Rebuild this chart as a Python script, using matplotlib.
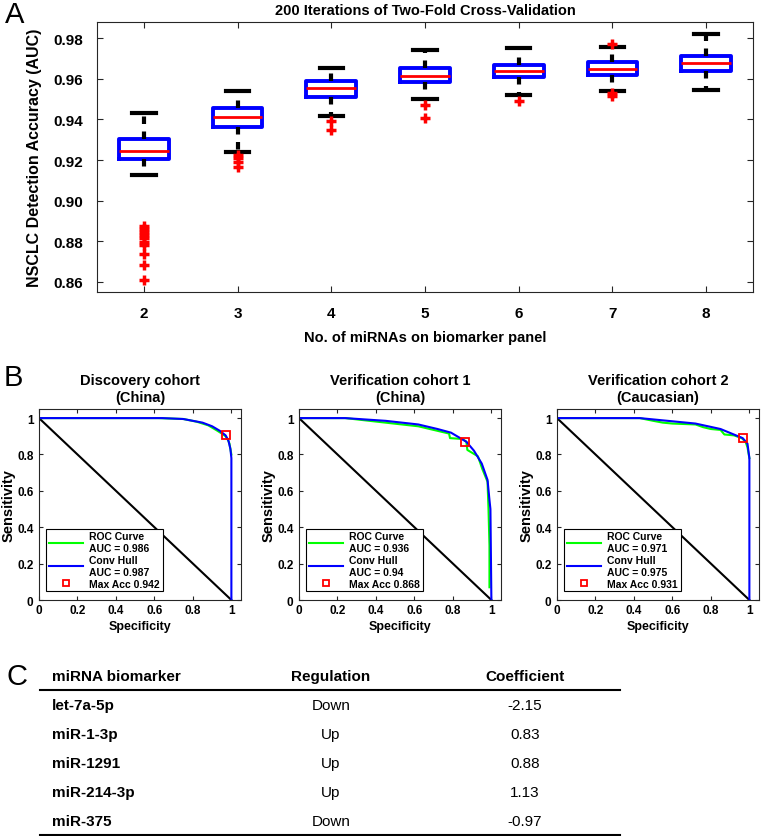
import numpy as np
import matplotlib
matplotlib.use('Agg')
import matplotlib.pyplot as plt
from matplotlib.lines import Line2D

plt.rcParams['font.family'] = ['Liberation Sans', 'DejaVu Sans']

# ---- panel A data: box stats for each panel size ----
n_mirnas = [2, 3, 4, 5, 6, 7, 8]
med = [0.9246, 0.9412, 0.9555, 0.9616, 0.9640, 0.9649, 0.9678]
q1 = [0.9205, 0.9364, 0.9511, 0.9583, 0.9609, 0.9619, 0.9637]
q3 = [0.9303, 0.9456, 0.9590, 0.9655, 0.9670, 0.9682, 0.9711]
whislo = [0.9126, 0.9241, 0.9417, 0.9502, 0.9522, 0.9539, 0.9545]
whishi = [0.9430, 0.9542, 0.9654, 0.9742, 0.9751, 0.9757, 0.9821]
fliers = [
    [0.8876, 0.8860, 0.8844, 0.8830, 0.8815, 0.8795, 0.8780, 0.8737, 0.8684, 0.8608],
    [0.9226, 0.9208, 0.9189, 0.9164],
    [0.9392, 0.9348],
    [0.9471, 0.9409],
    [0.9493],
    [0.9772, 0.9529, 0.9517],
    [],
]

# ---- panel B data: ROC curves ----
titles = ['Discovery cohort\n(China)', 'Verification cohort 1\n(China)',
          'Verification cohort 2\n(Caucasian)']
roc_auc = [0.986, 0.936, 0.971]
hull_auc = [0.987, 0.94, 0.975]
max_acc = [0.942, 0.868, 0.931]
max_pt = [(0.97, 0.905), (0.865, 0.87), (0.965, 0.89)]

roc_spec = [
    [0, 0.62, 0.75, 0.82, 0.88, 0.92, 0.95, 0.97, 0.98, 0.99, 0.995, 1.0],
    [0, 0.24, 0.45, 0.62, 0.70, 0.78, 0.785, 0.85, 0.87, 0.875, 0.93, 0.953, 0.98, 0.985, 0.99, 0.99],
    [0, 0.43, 0.5, 0.55, 0.6, 0.72, 0.76, 0.8, 0.85, 0.87, 0.92, 0.96, 0.98, 0.99, 1.0],
]
roc_sens = [
    [1, 1, 0.995, 0.98, 0.96, 0.935, 0.915, 0.9, 0.885, 0.86, 0.83, 0.8],
    [1, 1, 0.975, 0.955, 0.935, 0.915, 0.89, 0.885, 0.87, 0.825, 0.79, 0.72, 0.65, 0.5, 0.3, 0.07],
    [1, 1, 0.985, 0.975, 0.97, 0.965, 0.95, 0.94, 0.935, 0.91, 0.905, 0.89, 0.87, 0.84, 0.78],
]
hull_spec = [
    [0, 0.64, 0.75, 0.85, 0.90, 0.94, 0.97, 0.985, 0.995, 1.0, 1.0],
    [0, 0.24, 0.45, 0.62, 0.72, 0.79, 0.87, 0.91, 0.95, 0.98, 0.99, 0.995, 1.0],
    [0, 0.43, 0.72, 0.85, 0.965, 0.99, 1.0, 1.0],
]
hull_sens = [
    [1, 1, 0.995, 0.975, 0.955, 0.93, 0.905, 0.875, 0.83, 0.78, 0],
    [1, 1, 0.985, 0.965, 0.94, 0.92, 0.87, 0.82, 0.75, 0.66, 0.55, 0.5, 0],
    [1, 1, 0.97, 0.94, 0.89, 0.86, 0.78, 0],
]

# ---- panel C data ----
markers = ['let-7a-5p', 'miR-1-3p', 'miR-1291', 'miR-214-3p', 'miR-375']
regulation = ['Down', 'Up', 'Up', 'Up', 'Down']
coefficient = [-2.15, 0.83, 0.88, 1.13, -0.97]

W, H = 762, 837
fig = plt.figure(figsize=(W / 100, H / 100), dpi=100)


def box(l, t, r, b):
    return [l / W, 1 - b / H, (r - l) / W, (b - t) / H]


def style_axes(ax):
    for s in ax.spines.values():
        s.set_color('#262626')
        s.set_linewidth(0.8)
    ax.tick_params(direction='in', top=True, right=True, colors='#262626',
                   labelcolor='black', length=4, width=0.8)
    for lab in ax.get_xticklabels() + ax.get_yticklabels():
        lab.set_fontweight('bold')


# ---------------- panel A ----------------
axA = fig.add_axes(box(97, 23, 753, 293))
stats = []
for i in range(len(n_mirnas)):
    stats.append(dict(med=med[i], q1=q1[i], q3=q3[i], whislo=whislo[i],
                      whishi=whishi[i], fliers=fliers[i]))
axA.bxp(stats, positions=n_mirnas, widths=0.53, capwidths=0.25,
        boxprops=dict(color='blue', linewidth=2.8),
        medianprops=dict(color='red', linewidth=2),
        whiskerprops=dict(color='black', linewidth=3, linestyle=(0, (1.8, 1.8))),
        capprops=dict(color='black', linewidth=3),
        flierprops=dict(marker='+', markersize=7, markeredgewidth=2.5,
                        markeredgecolor='red', linestyle='none'))
axA.set_xlim(1.5, 8.5)
axA.set_ylim(0.855, 0.988)
axA.set_yticks(np.arange(0.86, 0.981, 0.02))
axA.set_yticklabels(['%.2f' % v for v in np.arange(0.86, 0.981, 0.02)])
axA.set_xticks(n_mirnas)
axA.set_xticklabels([str(n) for n in n_mirnas])
style_axes(axA)
axA.tick_params(labelsize=11)
axA.tick_params(axis='y', pad=10)
axA.tick_params(axis='x', pad=10)
axA.set_title('200 Iterations of Two-Fold Cross-Validation', fontsize=10.5,
              fontweight='bold', pad=6)
axA.set_xlabel('No. of miRNAs on biomarker panel', fontsize=10.5,
               fontweight='bold', labelpad=7)
axA.set_ylabel('NSCLC Detection Accuracy (AUC)', fontsize=11.5,
               fontweight='bold', labelpad=8)

# ---------------- panel B ----------------
lefts = [39, 299, 557]
for k in range(3):
    ax = fig.add_axes(box(lefts[k], 410, lefts[k] + 202, 601))
    ax.plot([0, 1], [1, 0], color='black', linewidth=1.5)
    ax.plot(roc_spec[k], roc_sens[k], color=(0, 1, 0), linewidth=1.5)
    ax.plot(hull_spec[k], hull_sens[k], color=(0, 0, 1), linewidth=1.5)
    ax.plot([max_pt[k][0]], [max_pt[k][1]], 's', markerfacecolor='none',
            markeredgecolor='red', markersize=6, markeredgewidth=1.3)
    ax.set_xlim(0, 1.05)
    ax.set_ylim(0, 1.05)
    ticks = [0, 0.2, 0.4, 0.6, 0.8, 1]
    ax.set_xticks(ticks)
    ax.set_yticks(ticks)
    ax.set_xticklabels(['0', '0.2', '0.4', '0.6', '0.8', '1'])
    ax.set_yticklabels(['0', '0.2', '0.4', '0.6', '0.8', '1'])
    style_axes(ax)
    ax.tick_params(labelsize=8.5, length=3)
    ax.tick_params(axis='y', pad=4)
    ax.tick_params(axis='x', pad=3)
    ax.set_title(titles[k], fontsize=10.5, fontweight='bold', pad=6)
    ax.set_xlabel('Specificity', fontsize=9, fontweight='bold', labelpad=3)
    ax.set_ylabel('Sensitivity', fontsize=10.5, fontweight='bold', labelpad=1)
    handles = [
        Line2D([], [], color=(0, 1, 0), linewidth=1.5),
        Line2D([], [], color=(0, 0, 1), linewidth=1.5),
        Line2D([], [], linestyle='none', marker='s', markerfacecolor='none',
               markeredgecolor='red', markersize=5, markeredgewidth=1.3),
    ]
    labels = ['ROC Curve\nAUC = %g' % roc_auc[k],
              'Conv Hull\nAUC = %g' % hull_auc[k],
              'Max Acc %g' % max_acc[k]]
    leg = ax.legend(handles, labels, loc='lower left',
                    bbox_to_anchor=(0.035, 0.045), borderaxespad=0,
                    prop=dict(weight='bold', size=7.5), fancybox=False,
                    framealpha=1, edgecolor='black', handlelength=3.3,
                    handletextpad=0.6, labelspacing=0.2, borderpad=0.25)
    leg.get_frame().set_linewidth(0.8)

# ---------------- panel C ----------------
def fx(x):
    return x / W


def fy(y):
    return 1 - y / H


tfont = ['Liberation Sans Narrow', 'Liberation Sans', 'DejaVu Sans']
fig.text(fx(52), fy(677), 'miRNA biomarker', family=tfont, fontsize=11,
         fontweight='bold', va='center', ha='left')
fig.text(fx(331), fy(677), 'Regulation', family=tfont, fontsize=11,
         fontweight='bold', va='center', ha='center')
fig.text(fx(525), fy(677), 'Coefficient', family=tfont, fontsize=11,
         fontweight='bold', va='center', ha='center')
fig.add_artist(Line2D([fx(40), fx(620)], [fy(691), fy(691)],
                      color='black', linewidth=1.5))
fig.add_artist(Line2D([fx(40), fx(620)], [fy(835.5), fy(835.5)],
                      color='black', linewidth=1.5))
for i in range(len(markers)):
    y = fy(706 + i * 29)
    fig.text(fx(52), y, markers[i], family=tfont, fontsize=11,
             fontweight='bold', va='center', ha='left')
    fig.text(fx(331), y, regulation[i], family=tfont, fontsize=11,
             va='center', ha='center')
    fig.text(fx(525), y, '%.2f' % coefficient[i], family=tfont, fontsize=11,
             va='center', ha='center')

# panel letters
fig.text(fx(5), fy(15), 'A', fontsize=21, va='center', ha='left')
fig.text(fx(4), fy(378), 'B', fontsize=21, va='center', ha='left')
fig.text(fx(6), fy(677), 'C', fontsize=21, va='center', ha='left')

fig.savefig('out.png', dpi=100)
